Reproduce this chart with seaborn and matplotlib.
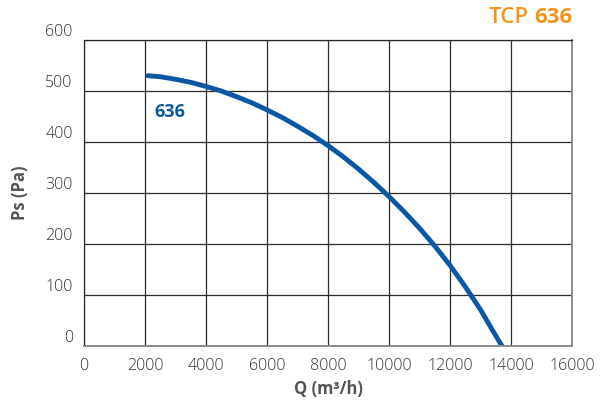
import pandas as pd
import seaborn as sns
import matplotlib.pyplot as plt
import matplotlib.ticker as ticker

# fan curve TCP 636
q_flow = [2100, 2500, 3000, 3500, 4000, 4500, 5000, 5500, 6000, 6500, 7000, 7500, 8000,
          8500, 9000, 9500, 10000, 10500, 11000, 11500, 12000, 12500, 13000, 13400, 13700]
ps_pa = [530, 528, 523, 517, 509, 500, 489, 477, 463, 448, 431, 413, 393,
         371, 347, 321, 293, 263, 231, 196, 158, 116, 71, 30, 0]
x_ticks = [0, 2000, 4000, 6000, 8000, 10000, 12000, 14000, 16000]
y_ticks = [0, 100, 200, 300, 400, 500, 600]

df = pd.DataFrame({'Q': q_flow, 'Ps': ps_pa})

sns.set_theme(style='white')
plt.rcParams['font.family'] = ['Open Sans', 'DejaVu Sans']

fig = plt.figure(figsize=(6.08, 4.05), dpi=100)
ax = fig.add_axes([0.138, 0.1457, 0.803, 0.7555])

sns.lineplot(data=df, x='Q', y='Ps', ax=ax, color='#0a58a3', linewidth=3.5,
             solid_capstyle='round', solid_joinstyle='round')

ax.set_xlim(0, 16000)
ax.set_ylim(0, 600)
ax.xaxis.set_major_locator(ticker.FixedLocator(x_ticks))
ax.yaxis.set_major_locator(ticker.FixedLocator(y_ticks))
ax.grid(True, color='#2b2b2b', linewidth=0.9)
ax.set_axisbelow(True)

for side in ['left', 'top']:
    ax.spines[side].set_color('#2b2b2b')
    ax.spines[side].set_linewidth(0.9)
for side in ['right', 'bottom']:
    ax.spines[side].set_color('#8c8c8c')
    ax.spines[side].set_linewidth(1.4)

ax.tick_params(axis='both', length=0, labelsize=11.5, labelcolor='#333333')
ax.tick_params(axis='x', pad=9)
ax.tick_params(axis='y', pad=8)
for lab in ax.get_xticklabels() + ax.get_yticklabels():
    lab.set_fontweight('light')
for lab in ax.get_yticklabels():
    lab.set_va('bottom')

ax.set_xlabel('Q (m³/h)', fontsize=12, fontweight='bold', color='#555555', labelpad=4)
ax.set_ylabel('Ps (Pa)', fontsize=12, fontweight='bold', color='#555555', labelpad=12)

ax.text(2300, 458, '636', fontsize=13, fontweight='bold', color='#0a58a3', va='center')

num = fig.text(0.941, 0.958, '636', fontsize=16, fontweight='bold', color='#f7941d',
               ha='right', va='center')
ax.annotate('TCP', xy=(0, 0.5), xycoords=num, xytext=(-4, 0), textcoords='offset points',
            fontsize=16, fontweight='semibold', color='#f7941d', ha='right', va='center',
            annotation_clip=False)

plt.savefig('out.png', dpi=100)
